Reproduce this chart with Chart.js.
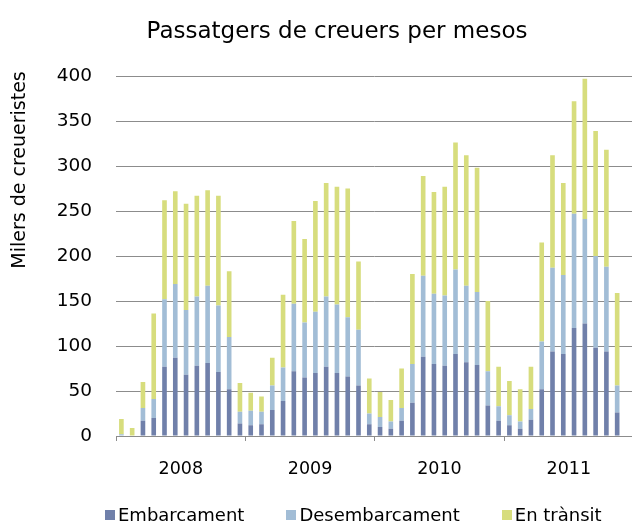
<!DOCTYPE html>
<html>
  <head>
    <meta charset="utf-8">
    <title>Passatgers de creuers per mesos</title>
    <script src="https://cdn.jsdelivr.net/npm/chart.js"></script>
    <style>
      html, body { margin: 0; padding: 0; overflow: hidden; background: #fff; }
      #wrap { position: relative; width: 646px; height: 529px; }
      #cruiseChart { position: absolute; left: 0; top: 0; }
      #title { position: absolute; top: 17px; left: 0; width: 674px; text-align: center;
               font: 23px "DejaVu Sans"; color: #000; white-space: nowrap; }
      #ytitle { position: absolute; left: -101px; top: 158px; width: 240px; height: 24px;
                line-height: 24px; text-align: center; transform: rotate(-90deg);
                font: 19px "DejaVu Sans"; color: #000; white-space: nowrap; }
      #legend { position: absolute; top: 504px; left: 105px; display: flex; gap: 42px;
                font: 18px "DejaVu Sans"; color: #000; white-space: nowrap; }
      .item { display: flex; align-items: center; }
      .sw { width: 10px; height: 10px; margin-right: 3px; }
    </style>
  </head>
  <body>
    <div id="wrap">
      <canvas id="cruiseChart" width="646" height="529"></canvas>
      <div id="title">Passatgers de creuers per mesos</div>
      <div id="ytitle">Milers de creueristes</div>
      <div id="legend"></div>
    </div>

    <script>
      // months per year, thousands of passengers
      var years = ['2008', '2009', '2010', '2011'];
      var months = ['gen', 'feb', 'mar', 'abr', 'mai', 'jun', 'jul', 'ago', 'set', 'oct', 'nov', 'des'];

      var embarcament = [
        0, 0, 17, 20, 77, 87, 68, 78, 81, 71, 52, 14,
        12, 13, 29, 39, 72, 65, 70, 77, 70, 66, 56, 13,
        10, 8, 17, 37, 88, 80, 78, 91, 82, 79, 34, 17,
        12, 8, 18, 52, 94, 91, 120, 125, 98, 94, 26, null
      ];
      var desembarcament = [
        2, 0, 14, 21, 75, 82, 72, 77, 86, 74, 58, 13,
        16, 14, 27, 37, 75, 61, 68, 78, 76, 66, 62, 12,
        11, 8, 14, 43, 90, 78, 78, 94, 85, 81, 38, 16,
        11, 8, 12, 53, 93, 88, 127, 116, 102, 94, 30, null
      ];
      var enTransit = [
        17, 9, 29, 95, 110, 103, 118, 112, 106, 122, 73, 32,
        20, 17, 31, 81, 92, 93, 123, 126, 131, 143, 76, 39,
        28, 24, 44, 100, 111, 113, 121, 141, 145, 138, 78, 44,
        38, 36, 47, 110, 125, 102, 125, 156, 139, 130, 103, null
      ];

      var seriesNames = ['Embarcament', 'Desembarcament', 'En trànsit'];
      var seriesColors = ['#7080aa', '#a2bdd6', '#d7dd7d'];
      var yTicks = [0, 50, 100, 150, 200, 250, 300, 350, 400];

      var labels = [];
      years.forEach(function (y) {
        months.forEach(function (m) {
          labels.push(m + ' ' + y);
        });
      });

      var values = [embarcament, desembarcament, enTransit];
      var datasets = seriesNames.map(function (name, i) {
        return {
          label: name,
          data: values[i],
          backgroundColor: seriesColors[i],
          borderWidth: 0,
          barPercentage: 0.43,
          categoryPercentage: 1.0
        };
      });

      // legend as plain html
      var legend = document.getElementById('legend');
      seriesNames.forEach(function (name, i) {
        var item = document.createElement('div');
        item.className = 'item';
        var sw = document.createElement('span');
        sw.className = 'sw';
        sw.style.background = seriesColors[i];
        var txt = document.createElement('span');
        txt.textContent = name;
        item.appendChild(sw);
        item.appendChild(txt);
        legend.appendChild(item);
      });

      var gridGray = '#8c8c8c';
      var ctx = document.getElementById('cruiseChart').getContext('2d');
      var cruiseChart = new Chart(ctx, {
        type: 'bar',
        data: { labels: labels, datasets: datasets },
        options: {
          responsive: false,
          animation: false,
          layout: { padding: { top: 76, right: 5, bottom: 0, left: 0 } },
          plugins: {
            legend: { display: false },
            title: { display: false },
            tooltip: { enabled: false }
          },
          scales: {
            x: {
              stacked: true,
              grid: {
                offset: true,
                drawOnChartArea: false,
                drawTicks: true,
                tickLength: 5,
                color: function (c) {
                  return c.index % 12 === 0 ? gridGray : 'rgba(0,0,0,0)';
                }
              },
              border: { display: true, color: gridGray },
              ticks: {
                autoSkip: false,
                maxRotation: 0,
                padding: 18,
                labelOffset: 5.5,
                color: '#000',
                font: { family: 'DejaVu Sans', size: 17.5 },
                callback: function (val, idx) {
                  return idx % 12 === 5 ? years[Math.floor(idx / 12)] : '';
                }
              },
              afterFit: function (scale) { scale.height = 93; }
            },
            y: {
              stacked: true,
              min: 0,
              max: 400,
              afterBuildTicks: function (scale) {
                scale.ticks = yTicks.map(function (v) { return { value: v }; });
              },
              grid: { color: gridGray, drawTicks: false },
              border: { display: false },
              ticks: {
                padding: 24,
                color: '#000',
                font: { family: 'DejaVu Sans', size: 18.5 }
              },
              afterFit: function (scale) { scale.width = 116; }
            }
          }
        }
      });
    </script>
  </body>
</html>
